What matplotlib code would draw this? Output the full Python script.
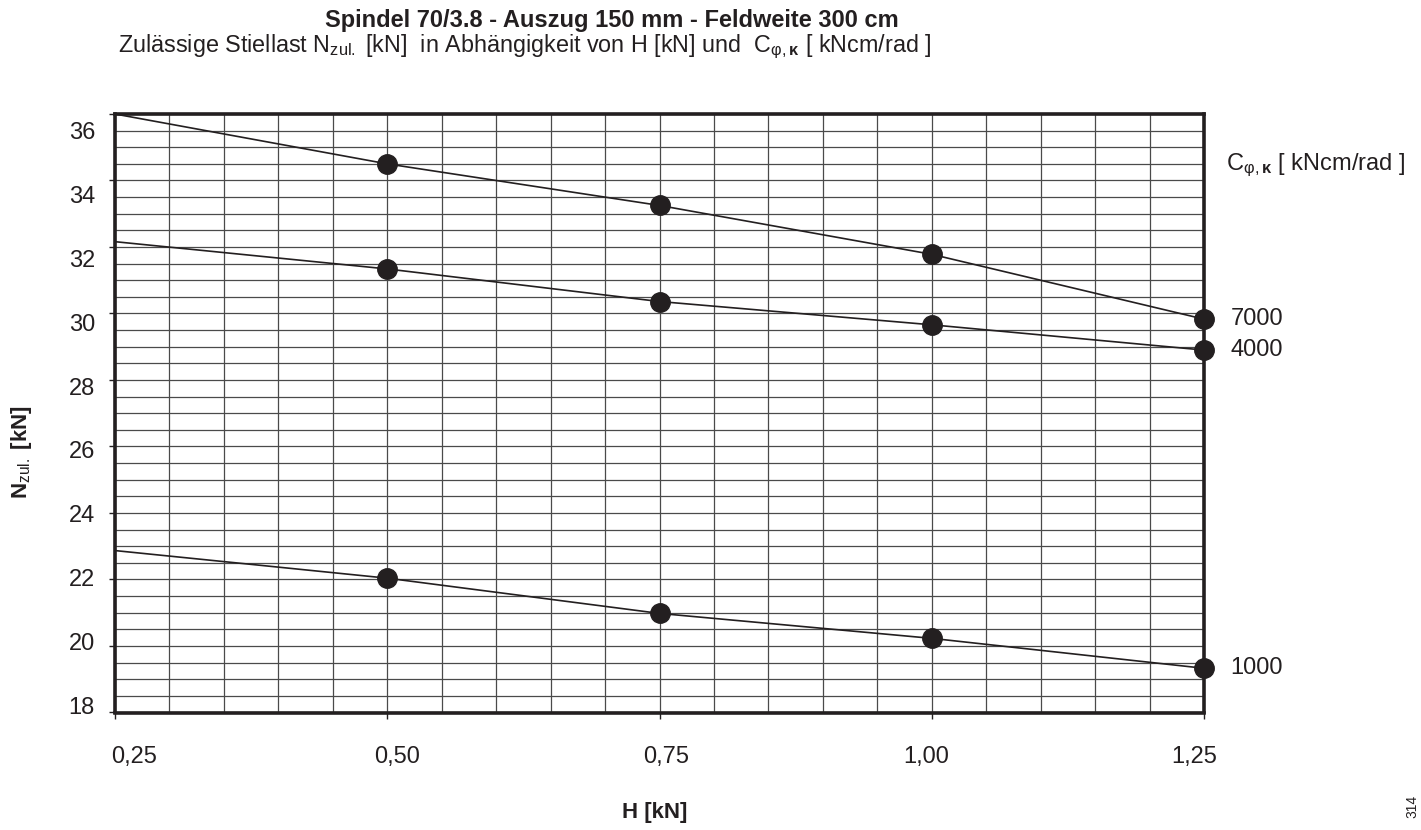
import matplotlib
matplotlib.use("Agg")
import matplotlib.pyplot as plt
import matplotlib.transforms as mtransforms
import numpy as np

plt.rcParams["font.family"] = ["Liberation Sans", "DejaVu Sans"]
plt.rcParams["mathtext.fontset"] = "custom"
plt.rcParams["mathtext.rm"] = "Liberation Sans"
plt.rcParams["mathtext.it"] = "Liberation Sans:italic"
plt.rcParams["mathtext.bf"] = "Liberation Sans:bold"

# Horizontal load H [kN]
H = [0.25, 0.50, 0.75, 1.00, 1.25]

# Permissible prop load N_zul. [kN] per rotational stiffness C [kNcm/rad]
stiffness_labels = ["7000", "4000", "1000"]
n_7000 = [36.00, 34.50, 33.25, 31.78, 29.83]
n_4000 = [32.16, 31.34, 30.36, 29.66, 28.90]
n_1000 = [22.87, 22.04, 20.98, 20.23, 19.33]

x_ticks = [0.25, 0.50, 0.75, 1.00, 1.25]
x_tick_labels = ["0,25", "0,50", "0,75", "1,00", "1,25"]
y_ticks = [18, 20, 22, 24, 26, 28, 30, 32, 34, 36]

INK = "#231f20"
DPI = 100

fig = plt.figure(figsize=(14.21, 8.30), dpi=DPI)
ax = fig.add_axes([115 / 1421, 1 - 712.5 / 830, (1204 - 115) / 1421, (712.5 - 114) / 830])

ax.set_xlim(0.25, 1.25)
ax.set_ylim(18, 36)

ax.set_xticks(x_ticks)
ax.set_xticks(np.arange(0.30, 1.25, 0.05), minor=True)
ax.set_yticks(y_ticks)
ax.set_yticks(np.arange(18.5, 36, 0.5), minor=True)

ax.grid(which="both", color="#4a4a4a", linewidth=0.9)
ax.set_axisbelow(True)

ax.tick_params(axis="both", which="major", direction="out", length=4,
               width=1, color=INK, labelleft=False, labelbottom=False)
ax.tick_params(axis="both", which="minor", length=0)

for spine in ax.spines.values():
    spine.set_linewidth(2.6)
    spine.set_color(INK)


def px(dx, dy):
    """Offset in screen pixels (y up)."""
    return mtransforms.ScaledTranslation(dx / DPI, dy / DPI, fig.dpi_scale_trans)


# Tick labels sit on a slightly tighter pitch than the grid itself
ytrans = mtransforms.blended_transform_factory(ax.transAxes, ax.transData)
for v in y_ticks:
    shift = -4.5 + 1.31 * (v - 18)
    ax.text(0, v, str(v), transform=ytrans + px(-20, -shift), ha="right",
            va="center", fontsize=17, color=INK)

xtrans = mtransforms.blended_transform_factory(ax.transData, ax.transAxes)
x_label_shift = [-4, 10, 7, -6, -10]
for v, text, dx in zip(x_ticks, x_tick_labels, x_label_shift):
    ax.text(v, 0, text, transform=xtrans + px(dx, -44),
            ha="left" if v == x_ticks[0] else "center", va="center",
            fontsize=17, color=INK)

for values, label in zip([n_7000, n_4000, n_1000], stiffness_labels):
    ax.plot(H, values, color=INK, linewidth=1.2, marker="o", markersize=14,
            markevery=[1, 2, 3, 4], clip_on=False, zorder=5)
    ax.annotate(label, xy=(H[-1], values[-1]), xytext=(19, 0),
                textcoords="offset points", va="center", ha="left",
                fontsize=17, color=INK, annotation_clip=False)

fig.text(612 / 1421, 1 - 20 / 830, "Spindel 70/3.8 - Auszug 150 mm - Feldweite 300 cm",
         ha="center", va="center", fontsize=17, fontweight="bold", color=INK)
fig.text(118 / 1421, 1 - 47 / 830,
         r"Zulässige Stiellast N$_{\mathrm{zul.}}$ [kN]  in Abhängigkeit von H [kN] und  "
         r"C$_{\mathrm{φ,}\mathbf{κ}}$ [ kNcm/rad ]",
         ha="left", va="center", fontsize=16.8, color=INK)
fig.text(1226 / 1421, 1 - 165 / 830, r"C$_{\mathrm{φ,}\mathbf{κ}}$ [ kNcm/rad ]",
         ha="left", va="center", fontsize=17, color=INK)

fig.text(655 / 1421, 1 - 812 / 830, "H [kN]", ha="center", va="center",
         fontsize=16, fontweight="bold", color=INK)
fig.text(22 / 1421, 1 - 452 / 830, r"$\mathbf{N}_{\mathrm{zul.}}$ [kN]", rotation=90,
         ha="center", va="center", fontsize=16, fontweight="bold", color=INK)

fig.text(1419 / 1421, 1 - 806 / 830, "314", rotation=90, ha="right", va="center",
         fontsize=10, color=INK)

fig.savefig("out.png", dpi=DPI, facecolor="white")
